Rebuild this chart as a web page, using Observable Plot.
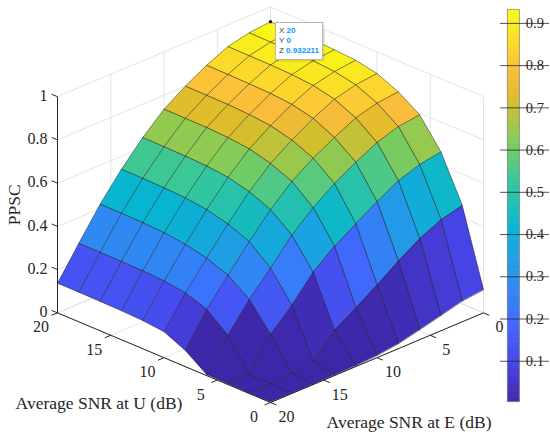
<!DOCTYPE html>
<html><head><meta charset="utf-8">
<script src="https://cdn.jsdelivr.net/npm/d3@7"></script>
<script src="https://cdn.jsdelivr.net/npm/@observablehq/plot@0.6"></script>
<style>
body{margin:0;background:#fff}
#wrap{position:relative;width:550px;height:440px;overflow:hidden}
#wrap svg{position:absolute;top:0}
#wrap svg text{font-family:"Liberation Serif","Times New Roman",serif}
.tip{position:absolute;background:#fff;border:1px solid #b8b8b8;box-shadow:1px 1px 2px rgba(0,0,0,0.15);
font-family:"Liberation Sans",Arial,sans-serif;font-size:8px;line-height:10px;padding:3px 3px 3px 3px;color:#404040;white-space:nowrap}
.tip b{color:#0099ff;font-weight:bold}
</style>
</head><body><div id="wrap"></div>
<script>
// ---------------- data ----------------
const snrU = [0, 2, 4, 6, 8, 10, 12, 14, 16, 18, 20];   // X: Average SNR at U (dB)
const snrE = [0, 2, 4, 6, 8, 10, 12, 14, 16, 18, 20];   // Y: Average SNR at E (dB)
// rows: snrE, columns: snrU
const ppscE0  = [0.108, 0.457, 0.662, 0.792, 0.857, 0.900, 0.920, 0.927, 0.930, 0.931, 0.932211];
const ppscE2  = [0.097, 0.433, 0.645, 0.779, 0.846, 0.889, 0.909, 0.917, 0.920, 0.921, 0.922];
const ppscE4  = [0.072, 0.387, 0.612, 0.747, 0.819, 0.864, 0.886, 0.895, 0.898, 0.899, 0.900];
const ppscE6  = [0.047, 0.325, 0.556, 0.697, 0.770, 0.817, 0.840, 0.849, 0.852, 0.854, 0.855];
const ppscE8  = [0.024, 0.256, 0.496, 0.640, 0.716, 0.758, 0.783, 0.793, 0.798, 0.799, 0.800];
const ppscE10 = [0.011, 0.191, 0.434, 0.570, 0.650, 0.691, 0.717, 0.728, 0.733, 0.734, 0.735];
const ppscE12 = [0.005, 0.129, 0.355, 0.484, 0.561, 0.602, 0.627, 0.638, 0.642, 0.644, 0.645];
const ppscE14 = [0.004, 0.025, 0.243, 0.373, 0.454, 0.494, 0.519, 0.532, 0.537, 0.539, 0.540];
const ppscE16 = [0.003, 0.010, 0.150, 0.270, 0.340, 0.378, 0.400, 0.412, 0.417, 0.419, 0.420];
const ppscE18 = [0.003, 0.004, 0.005, 0.145, 0.224, 0.258, 0.272, 0.277, 0.279, 0.280, 0.280];
const ppscE20 = [0.003, 0.003, 0.004, 0.005, 0.075, 0.120, 0.130, 0.134, 0.136, 0.137, 0.137];
const ppsc = [ppscE0, ppscE2, ppscE4, ppscE6, ppscE8, ppscE10, ppscE12, ppscE14, ppscE16, ppscE18, ppscE20];

const uTicks = [0, 5, 10, 15, 20];
const eTicks = [0, 5, 10, 15, 20];
const zTicks = [0, 0.2, 0.4, 0.6, 0.8, 1];
const zTickLabels = ["0", "0.2", "0.4", "0.6", "0.8", "1"];
const cbTicks = [0.1, 0.2, 0.3, 0.4, 0.5, 0.6, 0.7, 0.8, 0.9];
const tipPoint = {U: 20, E: 0, Z: 0.932211};

// parula colormap stops
const parulaPos = [0, 1/9, 2/9, 3/9, 4/9, 5/9, 6/9, 7/9, 0.84, 8/9, 1];
const parulaCol = ["#3e26a8","#4747eb","#3e6fff","#2796eb","#08b5d0","#31c69f","#81cc59","#dcbd29","#fbbc3c","#fccf30","#f9fb15"];

// ---------------- projection (orthographic, az 45°, el 25°) ----------------
const el = 25 * Math.PI / 180, c45 = Math.SQRT1_2, zAsp = 0.795;
function proj(U, E, Z) {
  const u = U / 20, b = 1 - E / 20;
  return {
    sx: (b - u) * c45,
    sy: (u + b) * c45 * Math.sin(el) + zAsp * Z * Math.cos(el),
    d: -(u + b) * c45 * Math.cos(el) + zAsp * Z * Math.sin(el)
  };
}

const zAll = ppsc.flat();
const cmin = d3.min(zAll), cmax = d3.max(zAll);
const colorScale = {type: "linear", domain: parulaPos.map(t => cmin + t * (cmax - cmin)), range: parulaCol, interpolate: "rgb"};

// faces
const faces = [];
for (let i = 0; i < snrU.length - 1; i++) {
  for (let j = 0; j < snrE.length - 1; j++) {
    const corners = [[i, j], [i + 1, j], [i + 1, j + 1], [i, j + 1]];
    const pts = corners.map(([a, c]) => proj(snrU[a], snrE[c], ppsc[c][a]));
    faces.push({id: i + "-" + j, pts, v: ppsc[j + 1][i], depth: d3.mean(pts, p => p.d)});
  }
}
faces.sort((a, b) => a.depth - b.depth);
const faceRows = faces.flatMap(f => f.pts.map(p => ({id: f.id, sx: p.sx, sy: p.sy, v: f.v})));

// grid lines on back walls and floor
const gridRows = [];
function seg(id, A, B) {
  const p = proj(...A), q = proj(...B);
  gridRows.push({id, sx: p.sx, sy: p.sy}, {id, sx: q.sx, sy: q.sy});
}
zTicks.forEach(z => { seg("lw" + z, [20, 20, z], [20, 0, z]); seg("rw" + z, [20, 0, z], [0, 0, z]); });
eTicks.forEach(e => { seg("lv" + e, [20, e, 0], [20, e, 1]); seg("fe" + e, [0, e, 0], [20, e, 0]); });
uTicks.forEach(u => { seg("rv" + u, [u, 0, 0], [u, 0, 1]); seg("fu" + u, [u, 0, 0], [u, 20, 0]); });

// axis lines
const axisRows = [];
function aseg(id, A, B) {
  const p = proj(...A), q = proj(...B);
  axisRows.push({id, x1: p.sx, y1: p.sy, x2: q.sx, y2: q.sy});
}
aseg("ua", [20, 20, 0], [0, 20, 0]);
aseg("ea", [0, 20, 0], [0, 0, 0]);
aseg("za", [20, 20, 0], [20, 20, 1]);
uTicks.forEach(u => aseg("ut" + u, [u, 20, 0], [u, 20.55, 0]));
eTicks.forEach(e => aseg("et" + e, [0, e, 0], [-0.55, e, 0]));
zTicks.forEach(z => aseg("zt" + z, [20, 20, z], [20.55, 20, z]));

const uLab = uTicks.map(u => ({t: String(u), ...proj(u, 20, 0)}));
const eLab = eTicks.map(e => ({t: String(e), ...proj(0, e, 0)}));
const zLab = zTicks.map((z, k) => ({t: zTickLabels[k], ...proj(20, 20, z)}));
const uTitle = [{t: "Average SNR at U (dB)", ...proj(10, 20, 0)}];
const eTitle = [{t: "Average SNR at E (dB)", ...proj(0, 10, 0)}];
const zTitle = [{t: "PPSC", ...proj(20, 20, 0.5)}];
const tip = proj(tipPoint.U, tipPoint.E, tipPoint.Z);

const serif = "'Liberation Serif', 'Times New Roman', serif";
const ink = "#262626";

const main = Plot.plot({
  width: 550, height: 440,
  x: {domain: [-c45, c45], range: [57, 483], axis: null},
  y: {domain: [0, 1.34], range: [402, 0], axis: null},
  color: colorScale,
  style: {background: "white", fontFamily: serif},
  marks: [
    Plot.line(gridRows, {x: "sx", y: "sy", z: "id", stroke: "#dedede", strokeWidth: 0.8}),
    Plot.link(axisRows, {x1: "x1", y1: "y1", x2: "x2", y2: "y2", stroke: ink, strokeWidth: 1}),
    Plot.line(faceRows, {x: "sx", y: "sy", z: "id", fill: "v", stroke: "#141414", strokeWidth: 0.5, strokeOpacity: 0.9, curve: "linear-closed"}),
    Plot.dot([tip], {x: "sx", y: "sy", r: 1.6, fill: "black", stroke: "none"}),
    Plot.text(uLab, {x: "sx", y: "sy", text: "t", dx: -16.5, dy: 14.5, fontSize: 16, fontFamily: serif, fill: ink}),
    Plot.text(eLab, {x: "sx", y: "sy", text: "t", dx: 16, dy: 14.5, fontSize: 16, fontFamily: serif, fill: ink}),
    Plot.text(zLab, {x: "sx", y: "sy", text: "t", dx: -10, dy: -1, textAnchor: "end", fontSize: 16, fontFamily: serif, fill: ink}),
    Plot.text(uTitle, {x: "sx", y: "sy", text: "t", dx: -65, dy: 46, fontSize: 17.5, fontFamily: serif, fill: ink}),
    Plot.text(eTitle, {x: "sx", y: "sy", text: "t", dx: 32, dy: 65, fontSize: 17.5, fontFamily: serif, fill: ink}),
    Plot.text(zTitle, {x: "sx", y: "sy", text: "t", dx: -43, rotate: -90, fontSize: 17.5, fontFamily: serif, fill: ink})
  ]
});
main.style.left = "0px";

// colorbar
const nSl = 240;
const slices = d3.range(nSl).map(k => {
  const a = cmin + (k / nSl) * (cmax - cmin), b = cmin + ((k + 1) / nSl) * (cmax - cmin);
  return {a, b, m: (a + b) / 2};
});
const cb = Plot.plot({
  width: 50, height: 440,
  x: {domain: [0, 1], range: [7.3, 19.3], axis: null},
  y: {domain: [cmin, cmax], range: [401.7, 9.3], axis: null},
  color: colorScale,
  style: {background: "none", fontFamily: serif},
  marks: [
    Plot.rect(slices, {x1: 0, x2: 1, y1: "a", y2: "b", fill: "m", stroke: "m", strokeWidth: 0.6}),
    Plot.rect([{a: cmin, b: cmax}], {x1: 0, x2: 1, y1: "a", y2: "b", fill: "none", stroke: "#8c8c8c", strokeWidth: 0.8}),
    Plot.tickY(cbTicks, {y: d => d, x1: 1, x2: 1.25, stroke: ink, strokeWidth: 0.8}),
    Plot.text(cbTicks, {x: 1, y: d => d, text: d => d.toFixed(1), dx: 6, textAnchor: "start", fontSize: 14.5, fontFamily: serif, fill: ink})
  ]
});
cb.style.left = "500px";

const wrap = document.getElementById("wrap");
wrap.appendChild(main);
wrap.appendChild(cb);

// data tip
const px = main.scale("x").apply(tip.sx), py = main.scale("y").apply(tip.sy);
const box = document.createElement("div");
box.className = "tip";
box.style.left = (px + 5) + "px";
box.style.top = (py + 1) + "px";
box.innerHTML = "<div>X <b>" + tipPoint.U + "</b></div><div>Y <b>" + tipPoint.E + "</b></div><div>Z <b>" + tipPoint.Z + "</b></div>";
wrap.appendChild(box);
</script>
</body></html>
